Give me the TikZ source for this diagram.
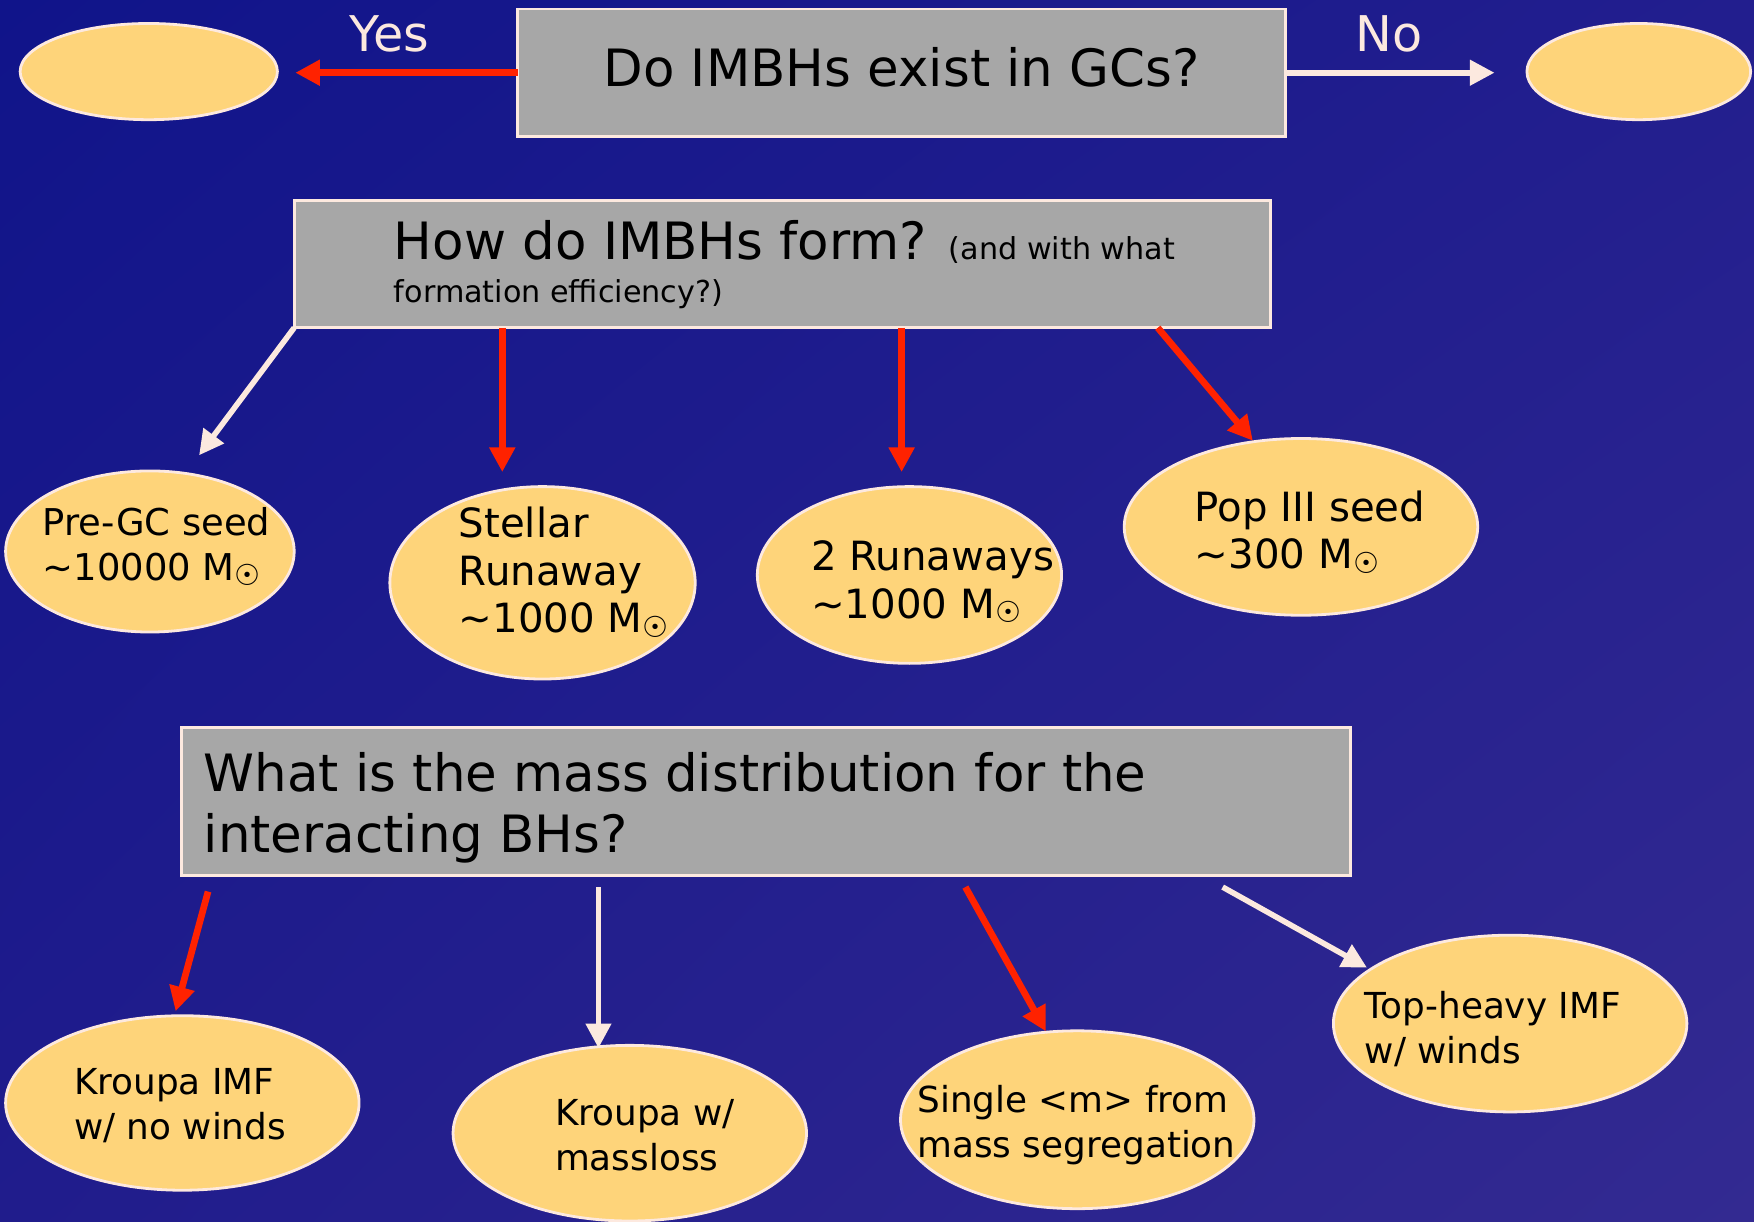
\documentclass[tikz,border=0pt]{standalone}
\usepackage{fontspec}
\setmainfont{DejaVu Sans}
\usetikzlibrary{arrows.meta,shapes.geometric,shadings}
\definecolor{bgTL}{HTML}{10148A}
\definecolor{bgTR}{HTML}{221E8E}
\definecolor{bgBL}{HTML}{201C8C}
\definecolor{bgBR}{HTML}{332A91}
\definecolor{boxgray}{HTML}{A7A7A7}
\definecolor{edgecol}{HTML}{FDE9DF}
\definecolor{ovalfill}{HTML}{FED47A}
\definecolor{redarrow}{HTML}{FF2200}
\definecolor{whitearrow}{HTML}{FCE9DF}
\newcommand{\msun}{M{\fontsize{26}{26}\selectfont\raisebox{-4pt}{☉}}}
\tikzset{
  qbox/.style={draw=edgecol, line width=2.5pt, fill=boxgray, rectangle, inner sep=0pt},
  oval/.style={draw=edgecol, line width=2.5pt, fill=ovalfill, ellipse, inner sep=0pt},
  otext/.style={align=left, inner sep=0pt, text=black},
  redarr/.style={draw=redarrow, line width=6pt, -{Triangle[length=22pt,width=22pt]}},
  whtarr/.style={draw=whitearrow, line width=5pt, -{Triangle[length=22pt,width=22pt]}},
  lbl/.style={text=whitearrow, inner sep=0pt, font=\fontsize{44}{50}\selectfont}
}
\begin{document}
\begin{tikzpicture}[x=1pt,y=-1pt]
\useasboundingbox (0,0) rectangle (1568,1092);
\shade[upper left=bgTL, upper right=bgTR, lower left=bgBL, lower right=bgBR] (0,0) rectangle (1568,1092);

% top row
\node[qbox, minimum width=687pt, minimum height=114pt] (q1) at (806,65) {};
\node[inner sep=0pt, anchor=base, font=\fontsize{46}{52}\selectfont] (q1t) at (806,77) {Do IMBHs exist in GCs?};
\node[oval, minimum width=230pt, minimum height=86pt] (yes) at (133,64) {};
\node[oval, minimum width=200pt, minimum height=86pt] (no) at (1465,64) {};
\node[lbl, anchor=base] (yesl) at (348,46) {Yes};
\node[lbl, anchor=base] (nol) at (1242,46) {No};
\coordinate (ys) at (463,65); \coordinate (ye) at (264,65);
\coordinate (ns) at (1150,65); \coordinate (ne) at (1336,65);
\draw[redarr] (ys) -- (ye);
\draw[whtarr] (ns) -- (ne);

% second row
\node[qbox, minimum width=873pt, minimum height=114pt] (q2) at (699.5,236) {};
\node[inner sep=0pt, anchor=base west, font=\fontsize{46}{52}\selectfont] (q2a) at (352,232) {How do IMBHs form? {\fontsize{27}{30}\selectfont (and with what}};
\node[inner sep=0pt, anchor=base west, font=\fontsize{27}{30}\selectfont] (q2b) at (352,270) {formation efficiency?)};

\node[oval, minimum width=258pt, minimum height=144pt] (e1) at (134,493) {};
\node[oval, minimum width=273pt, minimum height=172pt] (e2) at (485,521) {};
\node[oval, minimum width=272pt, minimum height=158pt] (e3) at (813,514) {};
\node[oval, minimum width=316pt, minimum height=158pt] (e4) at (1163,471) {};

\node[otext, anchor=north west, font=\fontsize{33}{41}\selectfont] (t1) at (38,453) {Pre-GC seed\\\textasciitilde10000 \msun};
\node[otext, anchor=north west, font=\fontsize{36}{42.5}\selectfont] (t2) at (410,453) {Stellar\\Runaway\\\textasciitilde1000 \msun};
\node[otext, anchor=north west, font=\fontsize{36}{43}\selectfont] (t3) at (725,483) {2 Runaways\\\textasciitilde1000 \msun};
\node[otext, anchor=north west, font=\fontsize{36}{42}\selectfont] (t4) at (1068,439) {Pop III seed\\\textasciitilde300 \msun};

\coordinate (a1s) at (263,293); \coordinate (a1e) at (178,407);
\coordinate (a2s) at (449,293); \coordinate (a2e) at (449,422);
\coordinate (a3s) at (806,293); \coordinate (a3e) at (806,422);
\coordinate (a4s) at (1035,293); \coordinate (a4e) at (1120,394);
\draw[whtarr] (a1s) -- (a1e);
\draw[redarr] (a2s) -- (a2e);
\draw[redarr] (a3s) -- (a3e);
\draw[redarr] (a4s) -- (a4e);

% third row
\node[qbox, minimum width=1045pt, minimum height=133pt] (q3) at (684.5,716.5) {};
\node[inner sep=0pt, anchor=base west, font=\fontsize{46}{52}\selectfont] (q3a) at (182,708) {What is the mass distribution for the};
\node[inner sep=0pt, anchor=base west, font=\fontsize{46}{52}\selectfont] (q3b) at (182,762) {interacting BHs?};

\node[oval, minimum width=316pt, minimum height=156pt] (f1) at (163,986) {};
\node[oval, minimum width=316pt, minimum height=157pt] (f2) at (563,1013) {};
\node[oval, minimum width=316pt, minimum height=159pt] (f3) at (963,1001) {};
\node[oval, minimum width=316pt, minimum height=158pt] (f4) at (1350,915) {};

\node[otext, anchor=north west, font=\fontsize{32}{40}\selectfont] (u1) at (66,955) {Kroupa IMF\\w/ no winds};
\node[otext, anchor=north west, font=\fontsize{32}{40}\selectfont] (u2) at (496,983) {Kroupa w/\\massloss};
\node[otext, anchor=north west, font=\fontsize{32}{40}\selectfont] (u3) at (820,970) {Single <m> from\\mass segregation};
\node[otext, anchor=north west, font=\fontsize{32}{40}\selectfont] (u4) at (1220,886) {Top-heavy IMF\\w/ winds};

\coordinate (b1s) at (186,797); \coordinate (b1e) at (157,904);
\coordinate (b2s) at (535,793); \coordinate (b2e) at (535,937);
\coordinate (b3s) at (863,793); \coordinate (b3e) at (935,922);
\coordinate (b4s) at (1093,793); \coordinate (b4e) at (1222,865);
\draw[redarr] (b1s) -- (b1e);
\draw[whtarr] (b2s) -- (b2e);
\draw[redarr] (b3s) -- (b3e);
\draw[whtarr] (b4s) -- (b4e);
\end{tikzpicture}
\end{document}
